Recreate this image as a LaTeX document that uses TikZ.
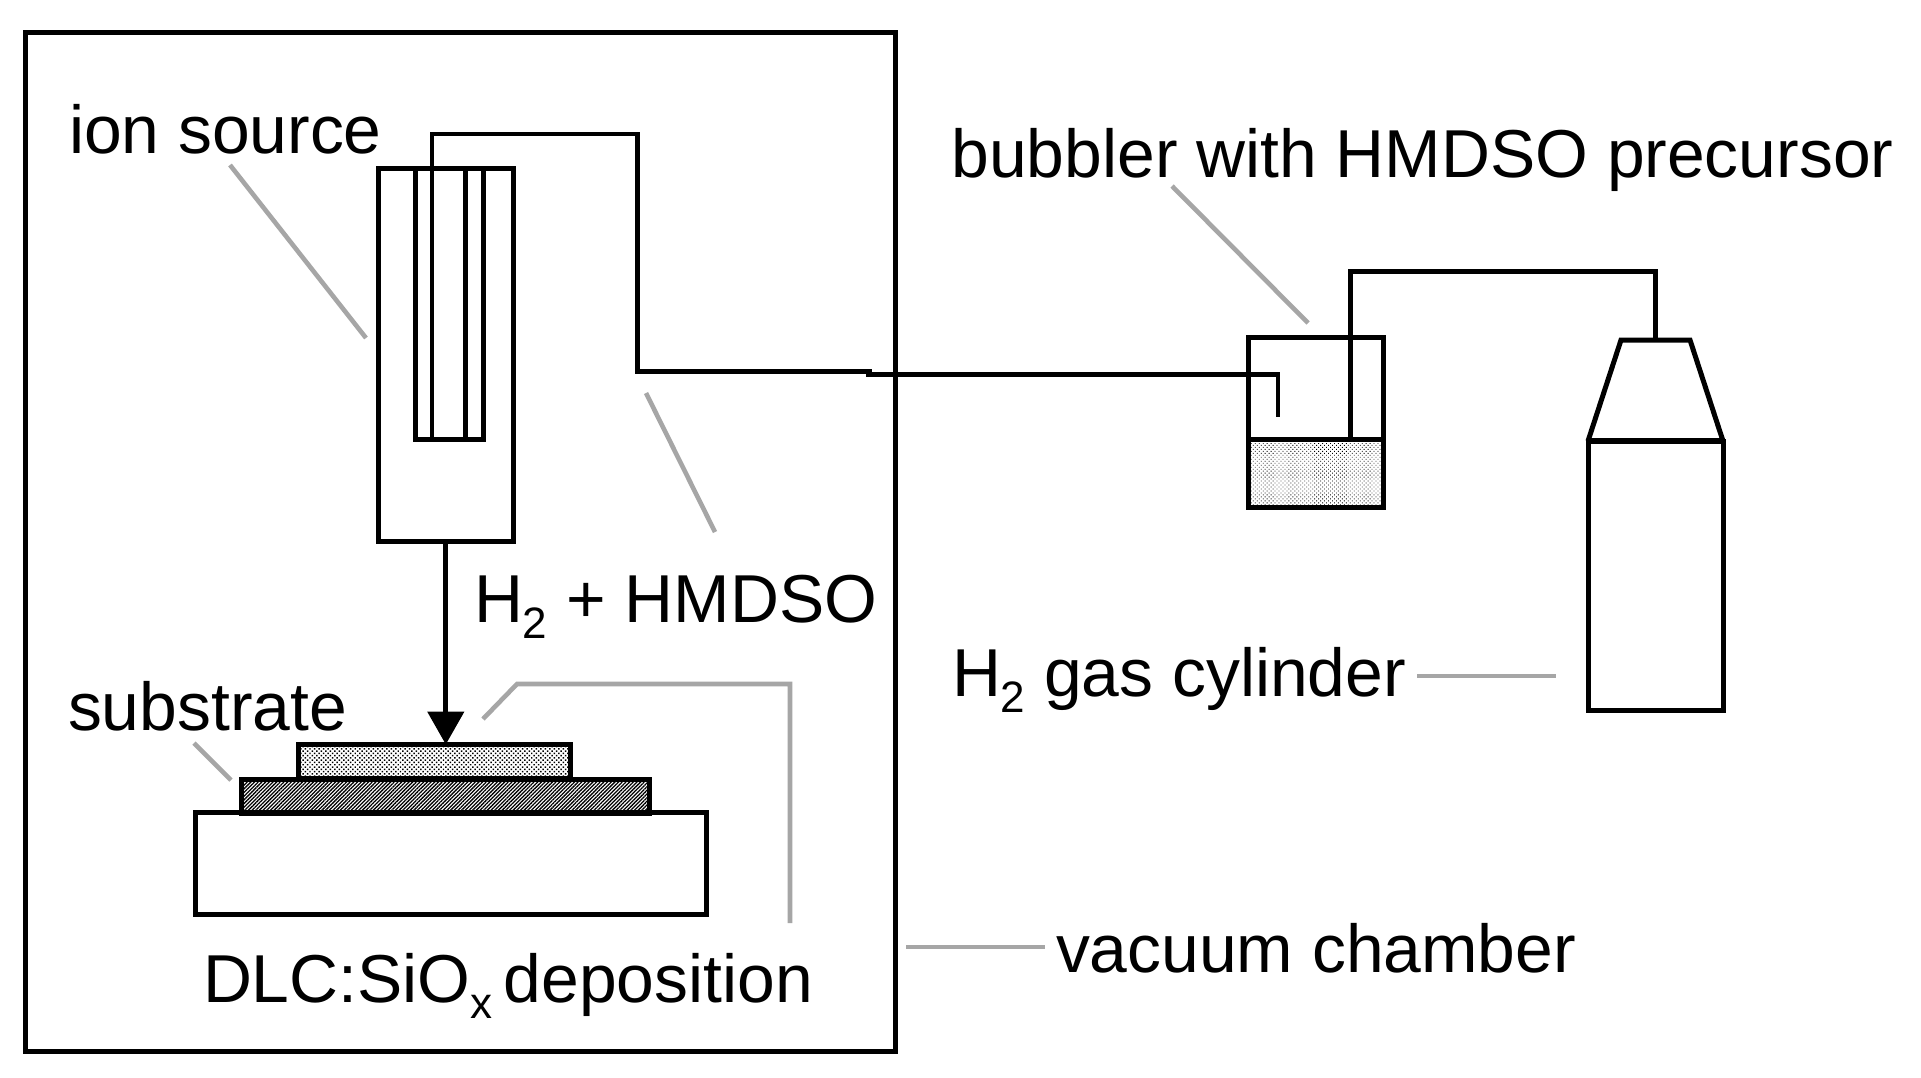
\documentclass[tikz,border=0pt]{standalone}
\usepackage{fontspec}
\setmainfont{Liberation Sans}
\usetikzlibrary{arrows.meta,patterns.meta}
\definecolor{leadgray}{HTML}{A6A6A6}
\newcommand{\lowtxt}[1]{\raisebox{-0.24em}{\fontsize{44}{44}\selectfont #1}}
\begin{document}
\begin{tikzpicture}[
    x=1pt, y=-1pt,
    line join=miter,
    box/.style={draw=black, line width=5pt, inner sep=0pt, outer sep=0pt},
    pipe/.style={draw=black, line width=4.6pt},
    lead/.style={draw=leadgray, line width=4.6pt},
    lbl/.style={font=\fontsize{67.8}{67.8}\selectfont, anchor=base west, inner sep=0pt, outer sep=0pt, text=black}
]
\useasboundingbox (0,0) rectangle (1921,1077);
\fill[white] (0,0) rectangle (1921,1077);

% chamber
\node[box, minimum width=870pt, minimum height=1019pt] (chamber) at (460.8,541.5) {};

% ion source
\node[box, minimum width=135pt, minimum height=373pt] (src) at (445.8,354.5) {};
\node[box, minimum width=68pt, minimum height=271pt] (inner) at (449.7,303.5) {};
\coordinate (t1) at (431.8,439);
\coordinate (t2) at (465.9,439);
\coordinate (t3) at (465.9,168);
\draw[box] (t2) -- (t3);

% stage, substrate, film
\node[box, fill=white, minimum width=511pt, minimum height=102pt] (stage) at (451,863) {};
\node[box, pattern={Lines[angle=45,distance=2.6pt,line width=1.3pt]}, minimum width=408pt, minimum height=34pt] (subs) at (445.5,796) {};
\node[box, pattern={Dots[radius=1.05pt,distance=3.2pt,angle=45]}, minimum width=272pt, minimum height=34pt] (film) at (434.5,761.5) {};

% bubbler
\node[box, pattern={Dots[radius=0.6pt,distance=2.8pt,angle=45]}, minimum width=135pt, minimum height=68pt] (liquid) at (1316.3,473) {};
\node[box, minimum width=135pt, minimum height=170pt] (bubbler) at (1316.3,422) {};

% gas cylinder
\node[box, minimum width=135pt, minimum height=269pt] (cyl) at (1655.5,575.7) {};
\coordinate (n1) at (1621,340);
\coordinate (n2) at (1690,340);
\coordinate (n3) at (1723,441);
\coordinate (n4) at (1588,441);
\coordinate (noz) at (1655,340);
\draw[box] (n4) -- (n1) -- (n2) -- (n3);
\draw[draw=black, line width=6.5pt] (n4) -- (n3);

% gas line source to bubbler
\coordinate (p1) at (431.8,134);
\coordinate (p2) at (637.7,134);
\coordinate (p3) at (637.7,371.7);
\coordinate (p4) at (872,371.7);
\coordinate (p5) at (866,374.5);
\coordinate (p6) at (1278,374.5);
\coordinate (p7) at (1278,417);
\draw[pipe] (t1) -- (p1) -- (p2) -- (p3) -- (p4);
\draw[pipe] (p5) -- (p6) -- (p7);

% gas line bubbler to cylinder
\coordinate (q0) at (1350,439);
\coordinate (q1) at (1350,271);
\coordinate (q2) at (1655,271);
\draw[pipe, line width=5pt] (q0) -- (q1) -- (q2) -- (noz);

% beam
\draw[draw=black, line width=5pt, -{Triangle[length=33pt,width=36pt]}] (src.south) -- (src.south |- film.north);

% labels
\node[lbl] (lion) at (69,153) {ion source};
\node[lbl] (lbub) at (951.5,177) {bubbler with HMDSO precursor};
\node[lbl] (lgas) at (474,622) {H\lowtxt{2} + HMDSO};
\node[lbl] (lsub) at (68,730) {substrate};
\node[lbl] (ldep) at (203,1002) {DLC:SiO\lowtxt{x}\,deposition};
\node[lbl] (lcyl) at (952,696) {H\lowtxt{2} gas cylinder};
\node[lbl] (lvac) at (1056,972) {vacuum chamber};

% leader lines
\coordinate (a1) at (230,165);
\coordinate (a2) at (366,338);
\coordinate (b1) at (646,393);
\coordinate (b2) at (715,532);
\coordinate (c1) at (1172,186);
\coordinate (c2) at (1308,323);
\coordinate (d1) at (194,743);
\coordinate (d2) at (231,780);
\coordinate (e1) at (483,719);
\coordinate (e2) at (517,684);
\coordinate (e3) at (790,684);
\coordinate (e4) at (790,923);
\coordinate (f1) at (1417,676);
\coordinate (f2) at (1556,676);
\coordinate (g1) at (906,947);
\coordinate (g2) at (1045,947);
\draw[lead] (a1) -- (a2);
\draw[lead] (b1) -- (b2);
\draw[lead] (c1) -- (c2);
\draw[lead] (d1) -- (d2);
\draw[lead] (e1) -- (e2) -- (e3) -- (e4);
\draw[lead] (f1) -- (f2);
\draw[lead] (g1) -- (g2);
\end{tikzpicture}
\end{document}
